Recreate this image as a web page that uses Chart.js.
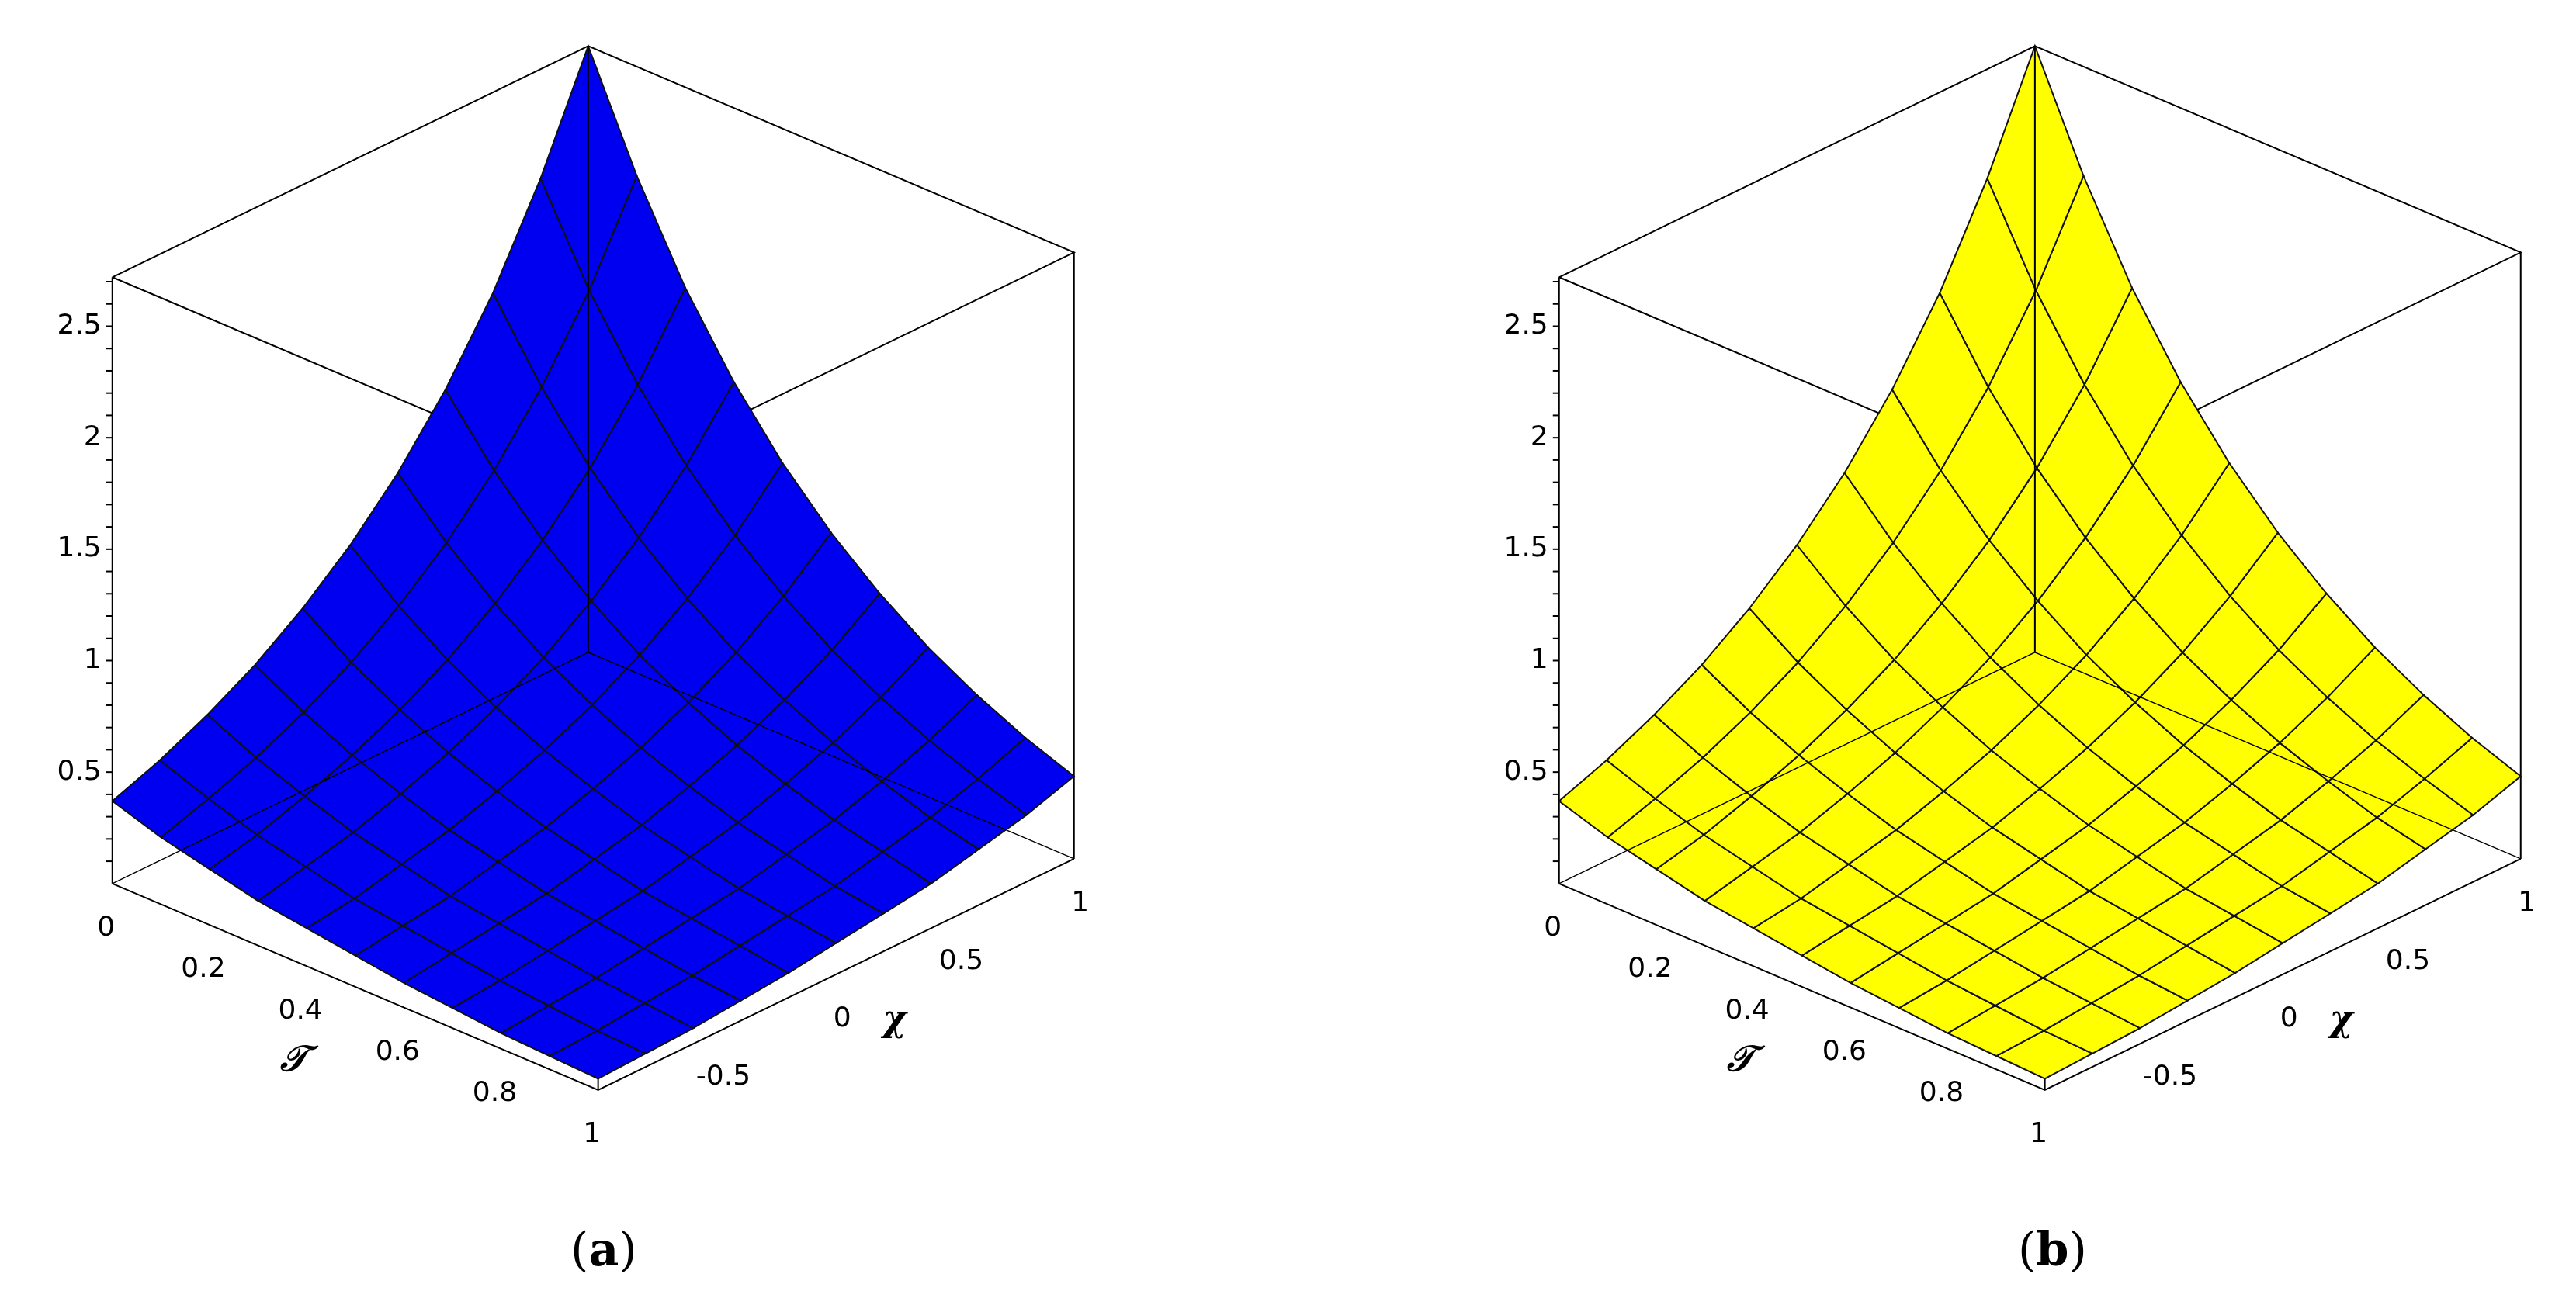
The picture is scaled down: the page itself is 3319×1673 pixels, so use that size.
<!DOCTYPE html>
<html>
<head>
<meta charset="utf-8">
<script src="https://cdn.jsdelivr.net/npm/chart.js@4.4.0/dist/chart.umd.min.js"></script>
<style>
  body { margin: 0; width: 3319px; height: 1673px; background: #fff; position: relative; overflow: hidden; }
  canvas { position: absolute; }
  .cap { position: absolute; font-family: "DejaVu Serif", "Liberation Serif", serif; font-size: 60px; }
</style>
</head>
<body>
<canvas id="chartA" width="1520" height="1575" style="left:0px;top:-85px"></canvas>
<canvas id="chartB" width="1520" height="1575" style="left:1864px;top:-85px"></canvas>
<div class="cap" style="left:735px;top:1575px">(<b>a</b>)</div>
<div class="cap" style="left:2600px;top:1575px">(<b>b</b>)</div>
<script>
// grid: rows are T, columns are chi
const tauValues = [0, 0.1, 0.2, 0.3, 0.4, 0.5, 0.6, 0.7, 0.8, 0.9, 1];
const chiValues = [-1, -0.8, -0.6, -0.4, -0.2, 0, 0.2, 0.4, 0.6, 0.8, 1];
const zGrid = [
  [0.37, 0.45, 0.55, 0.67, 0.82, 1.00, 1.22, 1.49, 1.82, 2.23, 2.72],
  [0.30, 0.37, 0.45, 0.55, 0.67, 0.82, 1.00, 1.22, 1.49, 1.82, 2.23],
  [0.25, 0.30, 0.37, 0.45, 0.55, 0.67, 0.82, 1.00, 1.22, 1.49, 1.82],
  [0.20, 0.25, 0.30, 0.37, 0.45, 0.55, 0.67, 0.82, 1.00, 1.22, 1.49],
  [0.17, 0.20, 0.25, 0.30, 0.37, 0.45, 0.55, 0.67, 0.82, 1.00, 1.22],
  [0.14, 0.17, 0.20, 0.25, 0.30, 0.37, 0.45, 0.55, 0.67, 0.82, 1.00],
  [0.11, 0.14, 0.17, 0.20, 0.25, 0.30, 0.37, 0.45, 0.55, 0.67, 0.82],
  [0.09, 0.11, 0.14, 0.17, 0.20, 0.25, 0.30, 0.37, 0.45, 0.55, 0.67],
  [0.07, 0.09, 0.11, 0.14, 0.17, 0.20, 0.25, 0.30, 0.37, 0.45, 0.55],
  [0.06, 0.07, 0.09, 0.11, 0.14, 0.17, 0.20, 0.25, 0.30, 0.37, 0.45],
  [0.05, 0.06, 0.07, 0.09, 0.11, 0.14, 0.17, 0.20, 0.25, 0.30, 0.37]
];
const zTicks = [0.5, 1, 1.5, 2, 2.5];
const tauTicks = [0, 0.2, 0.4, 0.6, 0.8, 1];
const chiTicks = [-0.5, 0, 0.5, 1];
const zTop = 2.72;

// simple oblique projection into the panel's 2D plane
function proj(t, c, z) {
    const x = 362 - (1 - t) * 294 + (c + 1) / 2 * 288;
    const y = 660 - (1 - t) * 125 - (c + 1) / 2 * 140 - z * 135;
    return { x: x, y: -y };
}

function lineSet(points, width) {
    return {
        type: 'line', data: points, showLine: true, fill: false,
        borderColor: '#000', borderWidth: width || 2, pointRadius: 0
    };
}

function buildDatasets(color) {
    const sets = [];
    // bottom frame (back edges first)
    sets.push(lineSet([proj(0, -1, 0), proj(1, -1, 0), proj(1, 1, 0)], 2));
    sets.push(lineSet([proj(0, -1, 0), proj(0, 1, 0), proj(1, 1, 0)], 1.5));
    sets.push(lineSet([proj(0, 1, 0), proj(0, 1, zTop)], 2));
    // quads from back to front
    const quads = [];
    for (let i = 0; i < tauValues.length - 1; i++) {
        for (let j = 0; j < chiValues.length - 1; j++) {
            quads.push({ i: i, j: j, d: i - j });
        }
    }
    quads.sort((a, b) => a.d - b.d);
    quads.forEach(q => {
        const i = q.i, j = q.j;
        const pts = [
            proj(tauValues[i], chiValues[j], zGrid[i][j]),
            proj(tauValues[i], chiValues[j + 1], zGrid[i][j + 1]),
            proj(tauValues[i + 1], chiValues[j + 1], zGrid[i + 1][j + 1]),
            proj(tauValues[i + 1], chiValues[j], zGrid[i + 1][j]),
            proj(tauValues[i], chiValues[j], zGrid[i][j])
        ];
        sets.push({
            type: 'line', data: pts, showLine: true, fill: 'shape',
            backgroundColor: color, borderColor: '#111', borderWidth: 2,
            pointRadius: 0, tension: 0
        });
    });
    // top frame and front verticals
    sets.push(lineSet([proj(0, -1, zTop), proj(0, 1, zTop), proj(1, 1, zTop), proj(1, -1, zTop), proj(0, -1, zTop)], 2));
    sets.push(lineSet([proj(0, -1, 0), proj(0, -1, zTop)], 2));
    sets.push(lineSet([proj(1, 1, 0), proj(1, 1, zTop)], 2));
    sets.push(lineSet([proj(1, -1, 0), proj(1, -1, zGrid[10][0])], 2));
    return sets;
}

const labelPlugin = {
    id: 'axisLabels',
    afterDatasetsDraw(chart) {
        const ctx = chart.ctx;
        const sx = chart.scales.x, sy = chart.scales.y;
        const px = p => [sx.getPixelForValue(p.x), sy.getPixelForValue(p.y)];
        ctx.save();
        ctx.fillStyle = '#000';
        ctx.strokeStyle = '#000';
        ctx.lineWidth = 2;
        ctx.font = '36px "DejaVu Sans", sans-serif';
        // z ticks on left edge
        ctx.textAlign = 'right';
        ctx.textBaseline = 'middle';
        zTicks.forEach(z => {
            const [x, y] = px(proj(0, -1, z));
            ctx.fillText(String(z), x - 14, y);
        });
        for (let z = 0.1; z < zTop; z += 0.1) {
            const [x, y] = px(proj(0, -1, z));
            ctx.beginPath(); ctx.moveTo(x, y); ctx.lineTo(x - 8, y); ctx.stroke();
        }
        // T ticks along left-front edge
        ctx.textAlign = 'center';
        ctx.textBaseline = 'top';
        tauTicks.forEach(t => {
            const [x, y] = px(proj(t, -1, 0));
            ctx.fillText(String(t), x - 8, y + 40);
        });
        chiTicks.forEach(c => {
            const [x, y] = px(proj(1, c, 0));
            ctx.fillText(String(c), x + 8, y + 40);
        });
        ctx.font = 'italic bold 46px "DejaVu Serif", serif';
        let [ax, ay] = px(proj(0.55, -1, 0));
        ctx.fillText('\uD835\uDCAF', ax - 110, ay + 60);
        [ax, ay] = px(proj(1, 0.05, 0));
        ctx.fillText('\u03C7', ax + 60, ay + 45);
        ctx.restore();
    }
};

function makeChart(id, color) {
    return new Chart(document.getElementById(id), {
        type: 'scatter',
        data: { datasets: buildDatasets(color) },
        options: {
            responsive: false, animation: false, devicePixelRatio: 1,
            layout: { padding: 0 },
            plugins: { legend: { display: false }, tooltip: { enabled: false } },
            scales: {
                x: { type: 'linear', min: 0, max: 714, display: false },
                y: { type: 'linear', min: -700, max: 40, display: false }
            }
        },
        plugins: [labelPlugin]
    });
}

makeChart('chartA', '#0000f0');
makeChart('chartB', '#ffff00');
</script>
</body>
</html>
